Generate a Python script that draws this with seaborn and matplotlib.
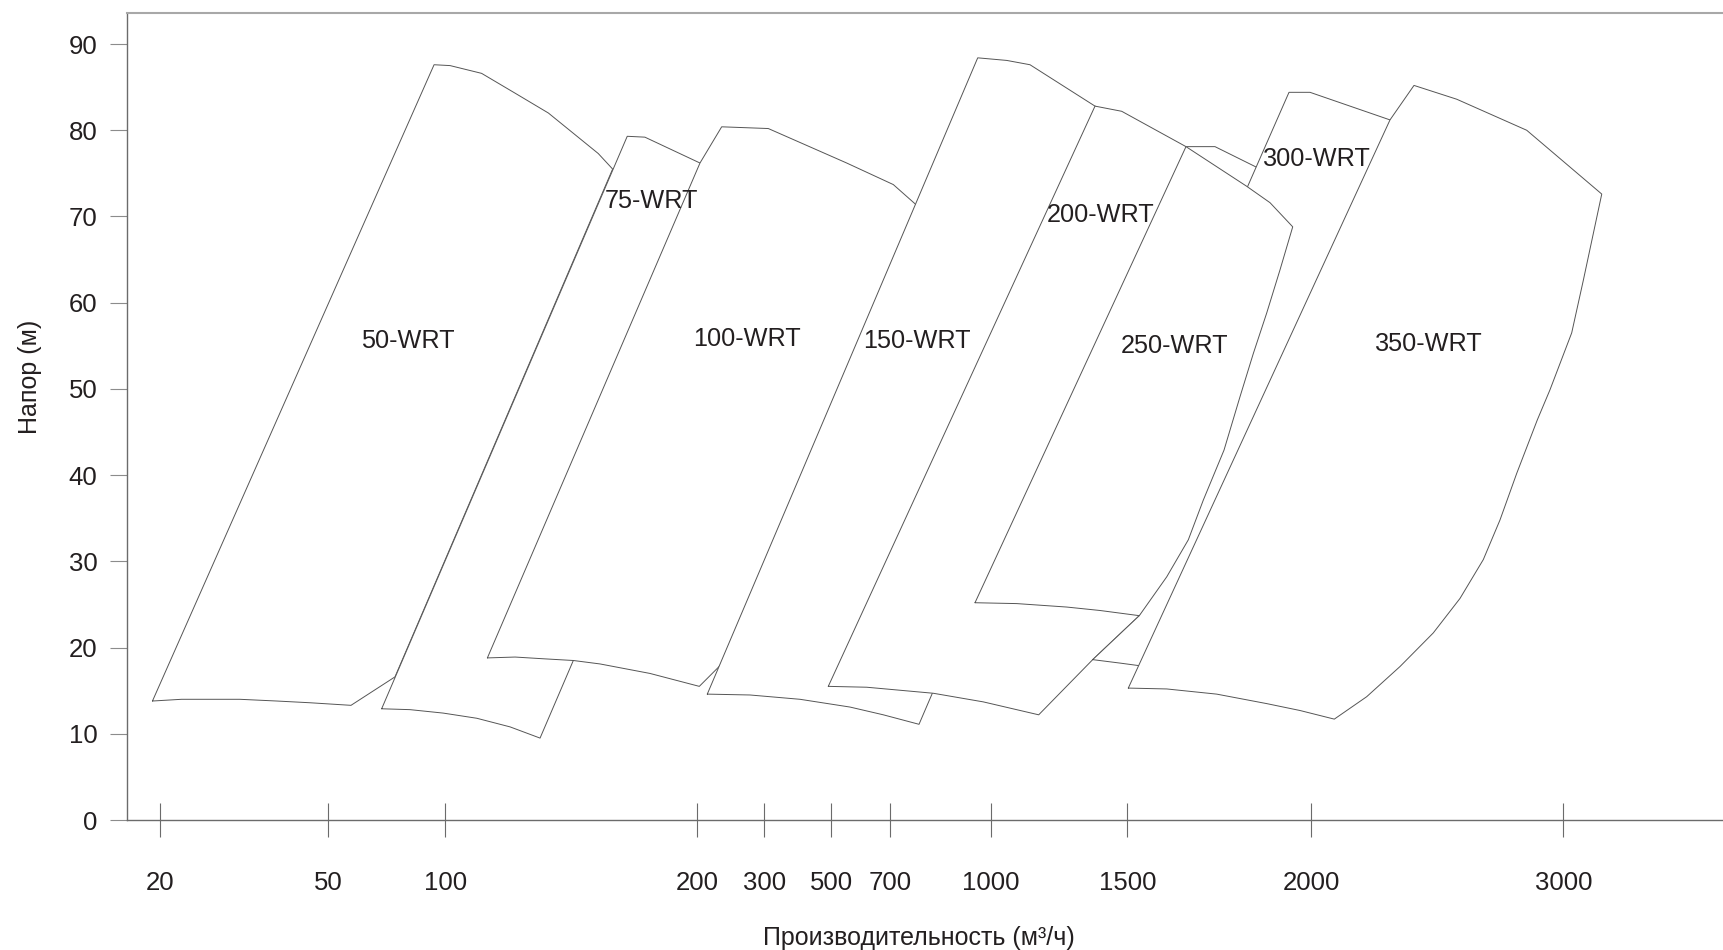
import numpy as np
import pandas as pd
import matplotlib
matplotlib.use("Agg")
import matplotlib.pyplot as plt
import seaborn as sns

# Pump ranges: flow Q (m3/h) and head H (m) along each outline
q_50 = [18.6, 95.2, 101.9, 114.4, 127.7, 140.9, 160.7, 166.4, 78.5, 59.7, 46.7, 40.8, 34.2, 23.8]
h_50 = [13.8, 87.6, 87.5, 86.6, 84.3, 82.0, 77.3, 75.5, 16.6, 13.3, 13.6, 13.8, 14.0, 14.0]

q_75 = [72.8, 172.2, 179.2, 204.0, 323.0, 150.8, 137.6, 125.7, 112.5, 99.1, 84.9]
h_75 = [12.9, 79.3, 79.2, 76.2, 72.5, 18.5, 9.5, 10.8, 11.8, 12.4, 12.8]

q_100 = [116.7, 204.0, 236.4, 311.9, 552.2, 709.0, 778.9, 848.5, 293.6, 231.3, 203.0,
         181.2, 161.4, 150.8, 138.9, 127.7]
h_100 = [18.8, 76.2, 80.4, 80.2, 76.2, 73.7, 71.3, 68.4, 23.2, 17.7, 15.5,
         17.0, 18.1, 18.5, 18.7, 18.9]

q_150 = [214.9, 961.2, 1058.6, 1143.8, 1381.8, 1588.9, 826.7, 785.8, 676.3, 563.4, 406.6, 278.7]
h_150 = [14.6, 88.4, 88.1, 87.6, 82.8, 78.9, 14.8, 11.1, 12.2, 13.1, 14.0, 14.5]

q_200 = [491.0, 1381.8, 1479.5, 1659.5, 1738.3, 1847.0, 1901.4, 1532.6, 1373.4, 1175.7,
         977.9, 828.5, 620.0]
h_200 = [15.5, 82.8, 82.2, 78.1, 78.1, 75.8, 74.5, 23.7, 18.6, 12.2,
         13.7, 14.7, 15.4]

q_250 = [953.1, 1659.5, 1824.5, 1887.8, 1949.5, 1914.9, 1878.8, 1842.4, 1806.3, 1762.8,
         1706.5, 1665.8, 1607.1, 1532.6, 1400.1, 1278.2, 1095.2]
h_250 = [25.2, 78.1, 73.5, 71.6, 68.8, 63.8, 58.8, 54.1, 49.1, 42.9,
         37.1, 32.5, 28.2, 23.7, 24.3, 24.7, 25.1]

q_300 = [1373.4, 1532.6, 1827.2, 1939.4, 1996.5, 2312.3, 2431.3, 1697.6, 1532.6, 1473.3]
h_300 = [18.6, 23.7, 73.5, 84.4, 84.4, 81.2, 79.9, 16.7, 17.9, 18.2]

q_350 = [1502.7, 2312.3, 2407.5, 2577.0, 2854.8, 3152.4, 3079.4, 3033.3, 2947.2, 2896.8,
         2815.1, 2748.8, 2682.5, 2590.1, 2484.1, 2352.0, 2219.8, 2091.3, 1969.3, 1878.8,
         1742.9, 1607.1]
h_350 = [15.3, 81.2, 85.2, 83.6, 80.0, 72.6, 62.6, 56.5, 49.9, 46.4,
         40.2, 34.8, 30.2, 25.7, 21.7, 17.8, 14.3, 11.7, 12.7, 13.5,
         14.6, 15.2]

label_text = ["50-WRT", "75-WRT", "100-WRT", "150-WRT", "200-WRT", "250-WRT", "300-WRT", "350-WRT"]
label_q = [83.9, 181.7, 274.9, 779.8, 1403.7, 1628.8, 2021.4, 2467.1]
label_h = [55.6, 71.8, 55.8, 55.5, 70.2, 55.0, 76.7, 55.2]

x_ticks = [20, 50, 100, 200, 300, 500, 700, 1000, 1500, 2000, 3000]
y_ticks = list(range(0, 100, 10))

# the original chart uses an uneven flow axis: tick value -> horizontal pixel
axis_q = [14.05, 20, 50, 100, 200, 300, 500, 700, 1000, 1500, 2000, 3000, 3637]
axis_px = [127, 160.3, 328.3, 445.3, 697.3, 764.3, 831.3, 890.3, 990.7, 1127.3, 1311.3, 1563.3, 1724]


def fwd(q):
    return np.interp(q, axis_q, axis_px)


def inv(p):
    return np.interp(p, axis_px, axis_q)


sns.set_theme(style="white")
plt.rcParams["font.family"] = ["Liberation Sans", "DejaVu Sans"]

text_color = "#231f20"
line_color = "#555555"

fig = plt.figure(figsize=(17.24, 9.5), dpi=100)
ax = fig.add_axes([127 / 1724, 130 / 950, 1597 / 1724, 807 / 950])
ax.set_xscale("function", functions=(fwd, inv))

# later ranges sit on top of earlier ones, as in the original drawing
pumps = [
    (q_50, h_50), (q_75, h_75), (q_100, h_100), (q_150, h_150),
    (q_200, h_200), (q_300, h_300), (q_250, h_250), (q_350, h_350),
]
for i, (q, h) in enumerate(pumps):
    ax.fill(q, h, facecolor="white", edgecolor="none", zorder=2 + 2 * i)
    outline = pd.DataFrame({"q": q + q[:1], "h": h + h[:1]})
    sns.lineplot(data=outline, x="q", y="h", sort=False, estimator=None,
                 color=line_color, lw=0.7, ax=ax, zorder=3 + 2 * i)

for name, lq, lh in zip(label_text, label_q, label_h):
    ax.text(lq, lh, name, ha="center", va="center", fontsize=18.2,
            color=text_color, zorder=40)

ax.set_xlim(axis_q[0], axis_q[-1])
ax.set_ylim(0, 93.6)
ax.set_xticks(x_ticks)
ax.set_xticklabels([str(t) for t in x_ticks])
ax.xaxis.set_minor_locator(matplotlib.ticker.NullLocator())
ax.set_yticks(y_ticks)

ax.tick_params(axis="x", bottom=True, direction="inout", length=23.8, width=0.8,
               color="#6b6b6b", pad=25, labelsize=18.5, labelcolor=text_color)
ax.tick_params(axis="y", left=True, direction="out", length=12.2, width=0.8,
               color="#8c8c8c", pad=9.1, labelsize=18.5, labelcolor=text_color)

for side in ("left", "bottom"):
    ax.spines[side].set_color("#6b6b6b")
    ax.spines[side].set_linewidth(1.0)
ax.spines["top"].set_color("#a8a8a8")
ax.spines["top"].set_linewidth(1.5)
ax.spines["right"].set_visible(False)

ax.set_xlabel("Производительность (м³/ч)", fontsize=18, color=text_color)
ax.xaxis.label.set_va("center")
ax.xaxis.set_label_coords(0.496, -0.1461)
ax.set_ylabel("Напор (м)", fontsize=18, color=text_color)
ax.yaxis.label.set_va("center")
ax.yaxis.set_label_coords(-0.061, 0.549)

fig.savefig("out.png", dpi=100, facecolor="white")
